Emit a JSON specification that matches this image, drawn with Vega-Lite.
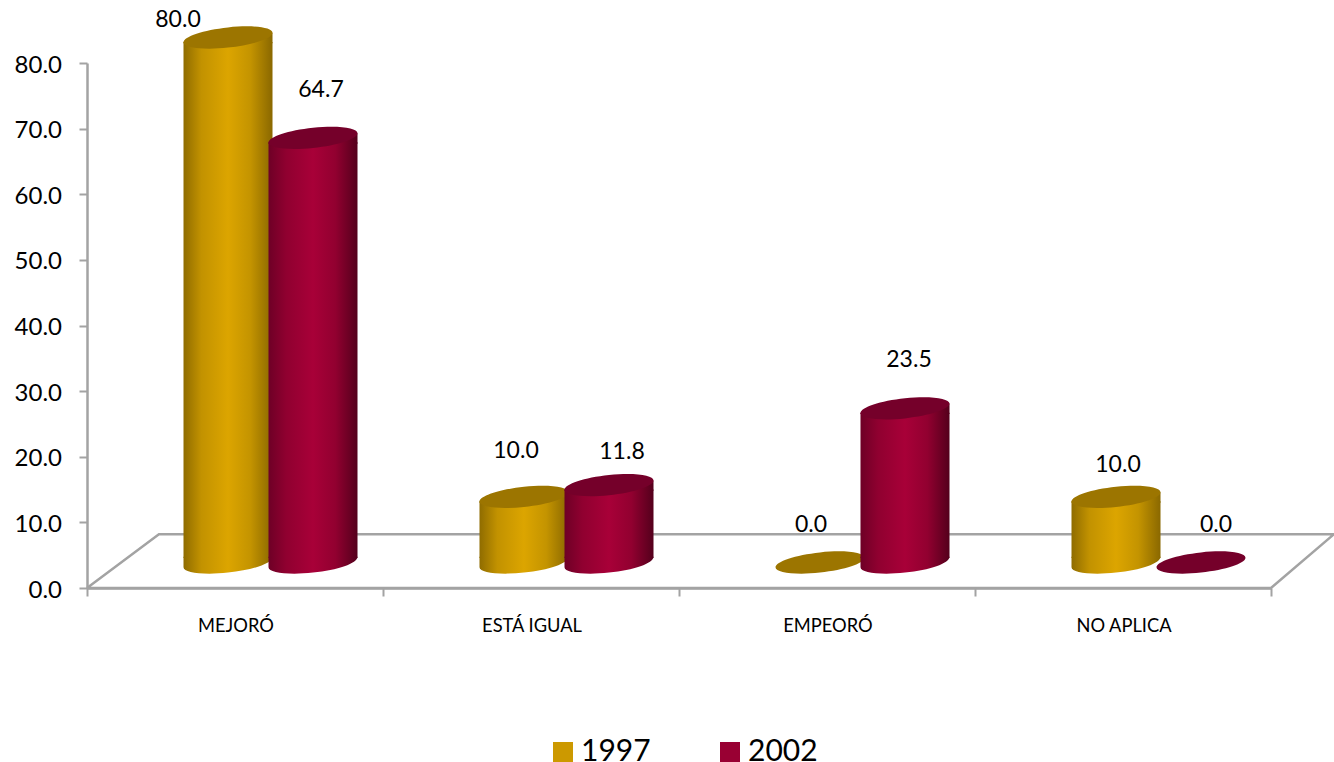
{
"$schema":"https://vega.github.io/schema/vega-lite/v6.json",
"width":1184,"height":525,
"autosize":{"type":"none"},
"padding":{"left":87,"top":63,"right":63,"bottom":174},
"background":"white",
"config":{"view":{"stroke":null},"font":"Lato"},
"datasets":{
"bars":[
{"category":"MEJORÓ","series":"1997","value":80.0},
{"category":"MEJORÓ","series":"2002","value":64.7},
{"category":"ESTÁ IGUAL","series":"1997","value":10.0},
{"category":"ESTÁ IGUAL","series":"2002","value":11.8},
{"category":"EMPEORÓ","series":"1997","value":0.0},
{"category":"EMPEORÓ","series":"2002","value":23.5},
{"category":"NO APLICA","series":"1997","value":10.0},
{"category":"NO APLICA","series":"2002","value":0.0}
],
"floor":[
{"fx":0,"fy":0,"ord":1},
{"fx":0.243,"fy":8.2,"ord":2},
{"fx":4.213,"fy":8.2,"ord":3},
{"fx":4,"fy":0,"ord":4},
{"fx":0,"fy":0,"ord":5}
]},
"resolve":{"scale":{"x":"independent","y":"independent"},"axis":{"x":"independent","y":"independent"}},
"layer":[
{"data":{"name":"floor"},
"mark":{"type":"line","stroke":"#a3a3a3","strokeWidth":2.5,"clip":false},
"encoding":{
"x":{"field":"fx","type":"quantitative","scale":{"domain":[0,4],"nice":false,"zero":false},
"axis":{"values":[0,1,2,3,4],"labels":false,"title":null,"grid":false,"domainColor":"#a3a3a3","domainWidth":2.5,"tickColor":"#a3a3a3","tickWidth":2,"tickSize":8}},
"y":{"field":"fy","type":"quantitative","scale":{"domain":[0,80],"nice":false},
"axis":{"values":[0,10,20,30,40,50,60,70,80],"format":".1f","title":null,"grid":false,"domainColor":"#a3a3a3","domainWidth":2.5,"tickColor":"#a3a3a3","tickWidth":2,"tickSize":8,"labelFontSize":24,"labelColor":"#000000","labelPadding":17.5,"labelFont":"Lato","labelOffset":2}},
"order":{"field":"ord","type":"quantitative"}}},
{"data":{"name":"bars"},
"encoding":{
"x":{"field":"category","type":"nominal","sort":["MEJORÓ","ESTÁ IGUAL","EMPEORÓ","NO APLICA"],"scale":{"paddingInner":0,"paddingOuter":0},
"axis":{"orient":"bottom","title":null,"labelAngle":0,"ticks":false,"domain":false,"labelFontSize":18.3,"labelColor":"#000000","labelPadding":38,"labelFont":"Lato","labelBaseline":"middle","labelOffset":1}},
"y":{"field":"value","type":"quantitative","stack":null,"scale":{"domain":[-3.886,76.114],"nice":false,"zero":false},"axis":null}},
"layer":[
{"mark":{"type":"point","shape":"square","filled":true,"opacity":0,"size":400},
"encoding":{"color":{"field":"series","type":"nominal","scale":{"domain":["1997","2002"],"range":["#CC9900","#990033"]},
"legend":{"orient":"none","legendX":461,"legendY":674,"direction":"horizontal","title":null,"symbolType":"square","symbolSize":400,"symbolOpacity":1,"labelFontSize":30,"labelColor":"#000000","labelFont":"Lato","columnPadding":64,"labelOffset":3,"symbolStrokeWidth":0}}}},
{"transform":[{"filter":"datum.series=='1997'"}],
"layer":[
{"transform":[{"filter":"datum.value>0"}],"mark":{"type":"bar","width":89,"xOffset":-7,"yOffset":4.4,"color":{"gradient":"linear","x1":0,"x2":1,"y1":0,"y2":0,"stops":[{"offset":0,"color":"#8f6c00"},{"offset":0.2,"color":"#c29200"},{"offset":0.5,"color":"#dca500"},{"offset":0.75,"color":"#c49400"},{"offset":1,"color":"#8a6800"}]}},"encoding":{"y2":{"datum":0.67}}},
{"transform":[{"filter":"datum.value>0"}],"mark":{"type":"point","filled":true,"opacity":1,"strokeWidth":0,"size":7921,"xOffset":-7,"shape":"M1,-0.105L1,0.13L-1,0.13L-1,0.105Z","color":{"gradient":"linear","x1":0,"x2":1,"y1":0,"y2":0,"stops":[{"offset":0,"color":"#8f6c00"},{"offset":0.2,"color":"#c29200"},{"offset":0.5,"color":"#dca500"},{"offset":0.75,"color":"#c49400"},{"offset":1,"color":"#8a6800"}]}}},
{"transform":[{"filter":"datum.value>0"}],"mark":{"type":"point","filled":true,"opacity":1,"strokeWidth":0,"size":7921,"xOffset":-7,"shape":"M1,-0.13C1,0.02 0.5523,0.169 0,0.227C-0.5523,0.285 -1,0.23 -1,0.105L-1,-0.13Z","color":{"gradient":"linear","x1":0,"x2":1,"y1":0,"y2":0,"stops":[{"offset":0,"color":"#8f6c00"},{"offset":0.2,"color":"#c29200"},{"offset":0.5,"color":"#dca500"},{"offset":0.75,"color":"#c49400"},{"offset":1,"color":"#8a6800"}]}},
"encoding":{"y":{"datum":0}}},
{"mark":{"type":"point","filled":true,"opacity":1,"strokeWidth":0,"size":7921,"xOffset":-7,"shape":"M1,-0.105C1,0.02 0.5523,0.169 0,0.227C-0.5523,0.285 -1,0.23 -1,0.105C-1,-0.02 -0.5523,-0.169 0,-0.227C0.5523,-0.285 1,-0.23 1,-0.105Z","color":"#9c7500"}}
]},
{"transform":[{"filter":"datum.series=='2002'"}],
"layer":[
{"transform":[{"filter":"datum.value>0"}],"mark":{"type":"bar","width":89,"xOffset":78,"yOffset":4.4,"color":{"gradient":"linear","x1":0,"x2":1,"y1":0,"y2":0,"stops":[{"offset":0,"color":"#6e0026"},{"offset":0.2,"color":"#900030"},{"offset":0.5,"color":"#a80038"},{"offset":0.75,"color":"#920030"},{"offset":1,"color":"#54001c"}]}},"encoding":{"y2":{"datum":0.67}}},
{"transform":[{"filter":"datum.value>0"}],"mark":{"type":"point","filled":true,"opacity":1,"strokeWidth":0,"size":7921,"xOffset":78,"shape":"M1,-0.105L1,0.13L-1,0.13L-1,0.105Z","color":{"gradient":"linear","x1":0,"x2":1,"y1":0,"y2":0,"stops":[{"offset":0,"color":"#6e0026"},{"offset":0.2,"color":"#900030"},{"offset":0.5,"color":"#a80038"},{"offset":0.75,"color":"#920030"},{"offset":1,"color":"#54001c"}]}}},
{"transform":[{"filter":"datum.value>0"}],"mark":{"type":"point","filled":true,"opacity":1,"strokeWidth":0,"size":7921,"xOffset":78,"shape":"M1,-0.13C1,0.02 0.5523,0.169 0,0.227C-0.5523,0.285 -1,0.23 -1,0.105L-1,-0.13Z","color":{"gradient":"linear","x1":0,"x2":1,"y1":0,"y2":0,"stops":[{"offset":0,"color":"#6e0026"},{"offset":0.2,"color":"#900030"},{"offset":0.5,"color":"#a80038"},{"offset":0.75,"color":"#920030"},{"offset":1,"color":"#54001c"}]}},
"encoding":{"y":{"datum":0}}},
{"mark":{"type":"point","filled":true,"opacity":1,"strokeWidth":0,"size":7921,"xOffset":78,"shape":"M1,-0.105C1,0.02 0.5523,0.169 0,0.227C-0.5523,0.285 -1,0.23 -1,0.105C-1,-0.02 -0.5523,-0.169 0,-0.227C0.5523,-0.285 1,-0.23 1,-0.105Z","color":"#75002a"}}
]},
{"transform":[{"filter":"datum.category=='MEJORÓ'&&datum.series=='1997'"}],"mark":{"type":"text","dx":-57,"dy":-17.5,"fontSize":23,"color":"#000000","font":"Lato"},"encoding":{"text":{"field":"value","format":".1f"}}},
{"transform":[{"filter":"datum.category=='MEJORÓ'&&datum.series=='2002'"}],"mark":{"type":"text","dx":86,"dy":-47.9,"fontSize":23,"color":"#000000","font":"Lato"},"encoding":{"text":{"field":"value","format":".1f"}}},
{"transform":[{"filter":"datum.category=='ESTÁ IGUAL'&&datum.series=='1997'"}],"mark":{"type":"text","dx":-15,"dy":-45.9,"fontSize":23,"color":"#000000","font":"Lato"},"encoding":{"text":{"field":"value","format":".1f"}}},
{"transform":[{"filter":"datum.category=='ESTÁ IGUAL'&&datum.series=='2002'"}],"mark":{"type":"text","dx":91,"dy":-33.1,"fontSize":23,"color":"#000000","font":"Lato"},"encoding":{"text":{"field":"value","format":".1f"}}},
{"transform":[{"filter":"datum.category=='EMPEORÓ'&&datum.series=='1997'"}],"mark":{"type":"text","dx":-16,"dy":-37.5,"fontSize":23,"color":"#000000","font":"Lato"},"encoding":{"text":{"field":"value","format":".1f"}}},
{"transform":[{"filter":"datum.category=='EMPEORÓ'&&datum.series=='2002'"}],"mark":{"type":"text","dx":82,"dy":-48.3,"fontSize":23,"color":"#000000","font":"Lato"},"encoding":{"text":{"field":"value","format":".1f"}}},
{"transform":[{"filter":"datum.category=='NO APLICA'&&datum.series=='1997'"}],"mark":{"type":"text","dx":-5,"dy":-31.9,"fontSize":23,"color":"#000000","font":"Lato"},"encoding":{"text":{"field":"value","format":".1f"}}},
{"transform":[{"filter":"datum.category=='NO APLICA'&&datum.series=='2002'"}],"mark":{"type":"text","dx":93,"dy":-37.5,"fontSize":23,"color":"#000000","font":"Lato"},"encoding":{"text":{"field":"value","format":".1f"}}}
]}
]
}
